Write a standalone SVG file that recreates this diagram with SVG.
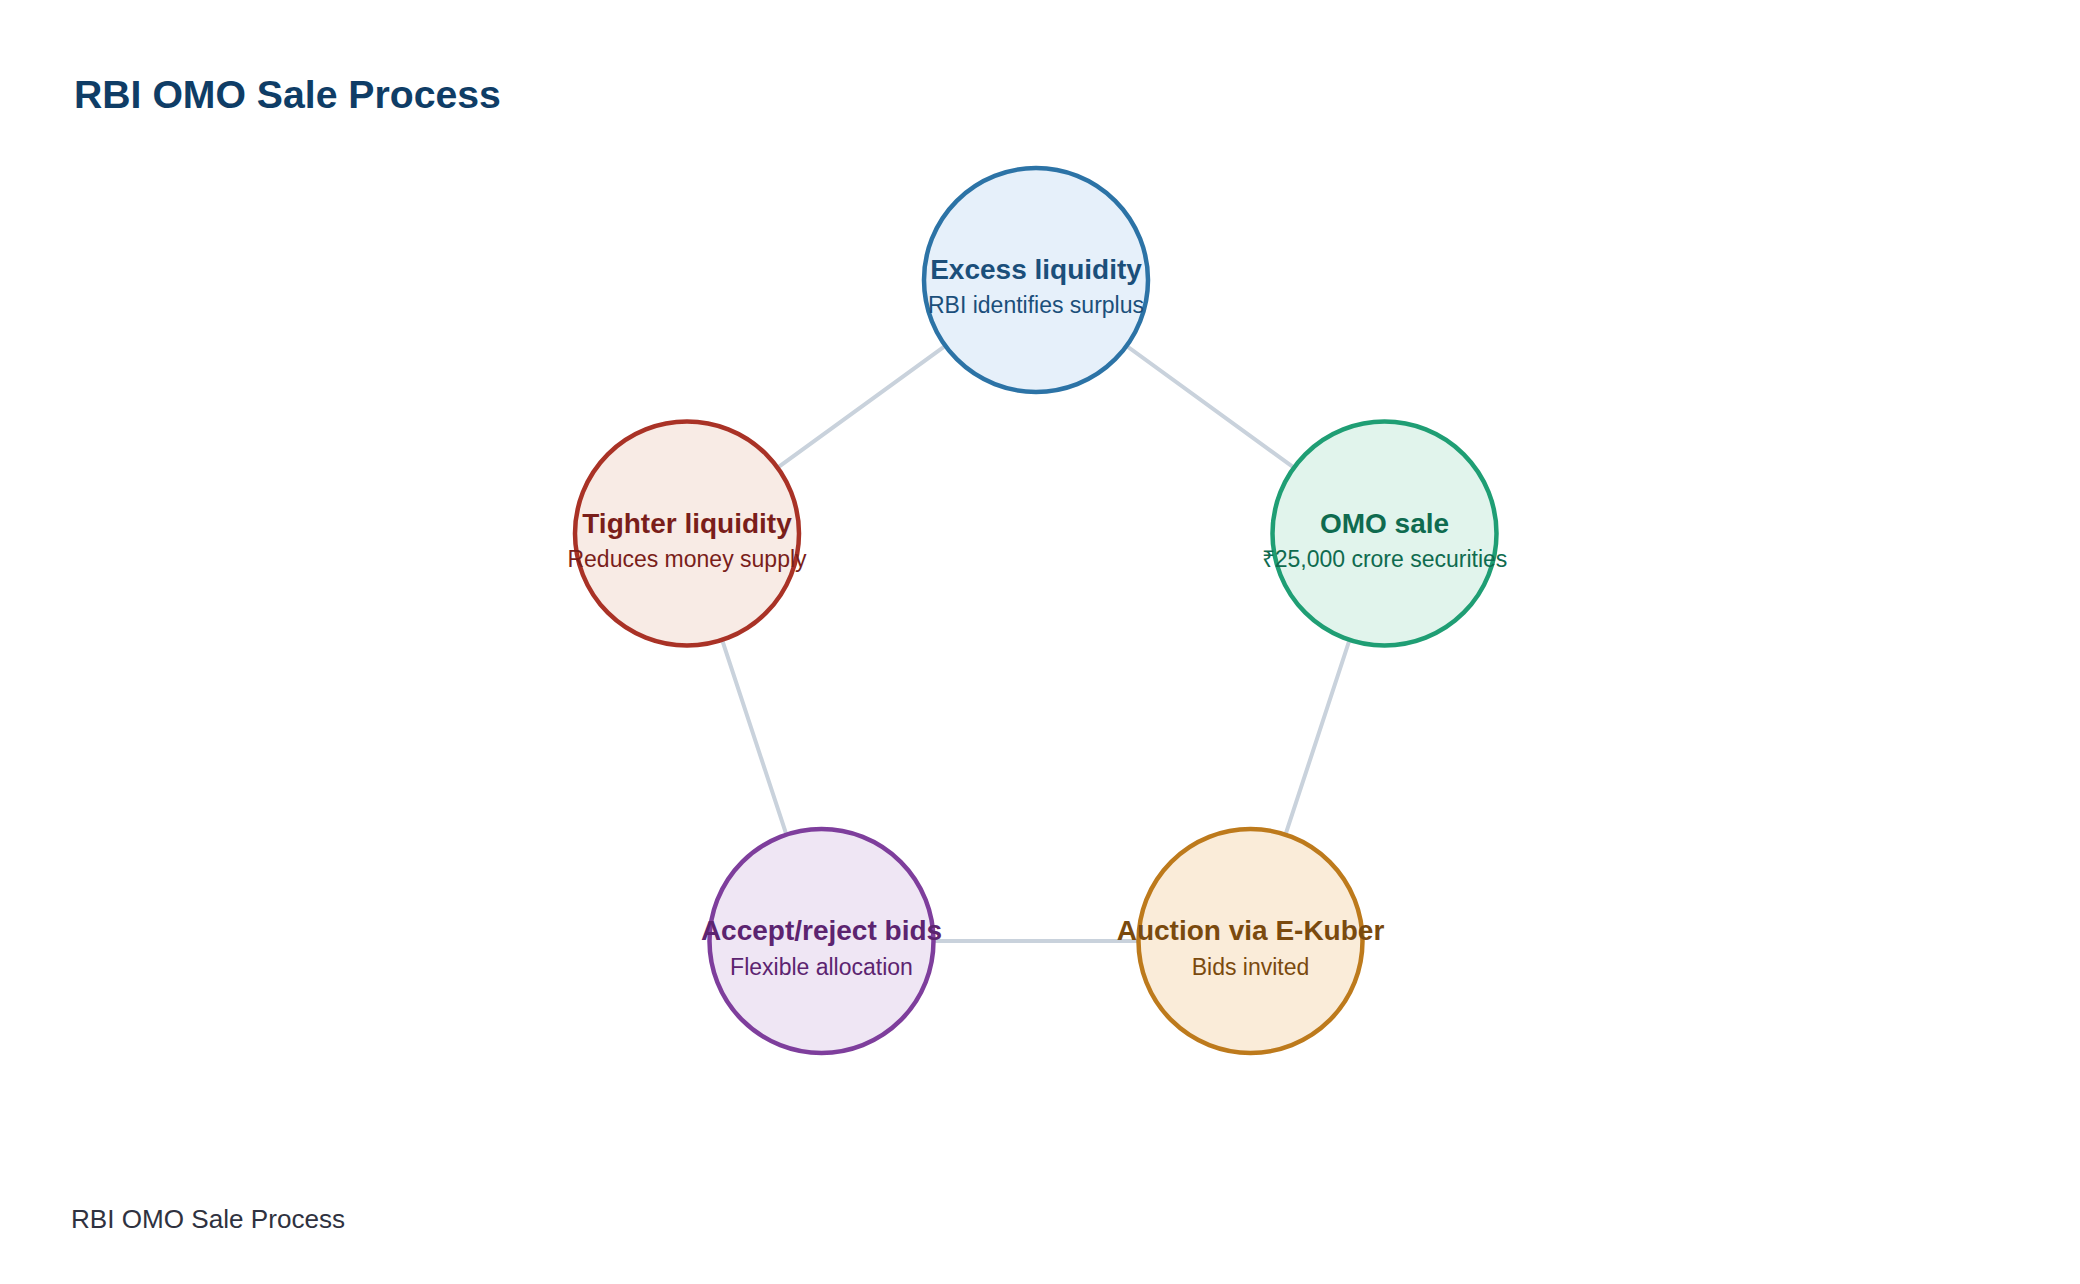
<svg xmlns="http://www.w3.org/2000/svg" width="2080" height="1284" viewBox="0 0 2080 1284">
  <style>
    text { font-family: "Liberation Sans", Arial, Helvetica, sans-serif; }
    .title { font-size: 39.2px; font-weight: bold; fill: #0f3d66; }
    .footer { font-size: 26.1px; fill: #2f3240; }
    .node circle { stroke-width: 4.5; }
    .nt { font-size: 28px; font-weight: bold; text-anchor: middle; }
    .ns { font-size: 23px; text-anchor: middle; }
    .conn line { stroke: #c9d2dc; stroke-width: 4; stroke-linecap: round; }
  </style>
  <rect x="0" y="0" width="2080" height="1284" fill="#ffffff"/>
  <text class="title" x="74" y="108">RBI OMO Sale Process</text>

  <g id="connectors" class="conn">
    <line x1="1036" y1="280" x2="1384.5" y2="533.5"/>
    <line x1="1384.5" y1="533.5" x2="1250.5" y2="941"/>
    <line x1="1250.5" y1="941" x2="821.5" y2="941"/>
    <line x1="821.5" y1="941" x2="687" y2="533.5"/>
    <line x1="687" y1="533.5" x2="1036" y2="280"/>
  </g>

  <g id="node-excess" class="node">
    <circle cx="1036" cy="280" r="112" fill="#e6f0fa" stroke="#2c73a6"/>
    <text class="nt" x="1036" y="279" fill="#1b4f7a">Excess liquidity</text>
    <text class="ns" x="1036" y="313" fill="#1b4f7a">RBI identifies surplus</text>
  </g>

  <g id="node-omo" class="node">
    <circle cx="1384.5" cy="533.5" r="112" fill="#e1f4ec" stroke="#1f9e74"/>
    <text class="nt" x="1384.5" y="532.5" fill="#0f6b4f">OMO sale</text>
    <text class="ns" x="1384.5" y="567" fill="#0f6b4f">₹25,000 crore securities</text>
  </g>

  <g id="node-auction" class="node">
    <circle cx="1250.5" cy="941" r="112" fill="#faecd9" stroke="#bd7a1c"/>
    <text class="nt" x="1250.5" y="940" fill="#7a4a0e">Auction via E-Kuber</text>
    <text class="ns" x="1250.5" y="975" fill="#7a4a0e">Bids invited</text>
  </g>

  <g id="node-accept" class="node">
    <circle cx="821.5" cy="941" r="112" fill="#efe6f4" stroke="#7e3e9c"/>
    <text class="nt" x="821.5" y="940" fill="#5c2470">Accept/reject bids</text>
    <text class="ns" x="821.5" y="975" fill="#5c2470">Flexible allocation</text>
  </g>

  <g id="node-tighter" class="node">
    <circle cx="687" cy="533.5" r="112" fill="#f8ebe5" stroke="#a93226"/>
    <text class="nt" x="687" y="532.5" fill="#7a1e1a">Tighter liquidity</text>
    <text class="ns" x="687" y="567" fill="#7a1e1a">Reduces money supply</text>
  </g>

  <text class="footer" x="71" y="1228">RBI OMO Sale Process</text>
</svg>
